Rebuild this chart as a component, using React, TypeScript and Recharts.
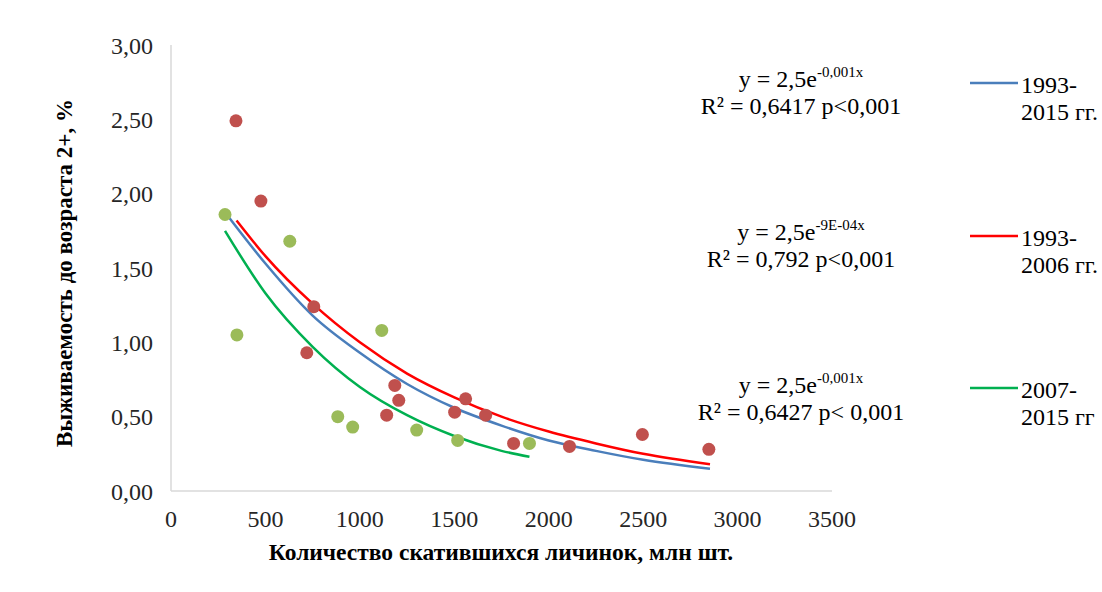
import { ComposedChart, Scatter, Line, XAxis, YAxis } from "recharts";

const red9306X = [344, 476, 719, 756, 1142, 1185, 1206, 1502, 1560, 1666, 1814, 2110, 2496, 2848];
const red9306Y = [2.49, 1.95, 0.93, 1.24, 0.51, 0.71, 0.61, 0.53, 0.62, 0.51, 0.32, 0.3, 0.38, 0.28];
const green0715X = [286, 349, 629, 883, 962, 1116, 1301, 1518, 1898];
const green0715Y = [1.86, 1.05, 1.68, 0.5, 0.43, 1.08, 0.41, 0.34, 0.32];

// trend lines, values
const blueTrendX = [289, 500, 750, 1000, 1250, 1500, 1750, 2000, 2250, 2500, 2854];
const blueTrendY = [1.87, 1.53, 1.18, 0.93, 0.72, 0.56, 0.44, 0.34, 0.27, 0.21, 0.15];
const redTrendX = [347, 500, 750, 1000, 1250, 1500, 1750, 2000, 2250, 2500, 2854];
const redTrendY = [1.82, 1.58, 1.26, 1.0, 0.79, 0.63, 0.5, 0.4, 0.32, 0.25, 0.18];
const greenTrendX = [286, 500, 750, 1000, 1250, 1500, 1750, 1898];
const greenTrendY = [1.75, 1.33, 0.97, 0.7, 0.51, 0.37, 0.27, 0.23];

const xTicks = [0, 500, 1000, 1500, 2000, 2500, 3000, 3500];
const yTicks = [0, 0.5, 1, 1.5, 2, 2.5, 3];

const toPoints = (xs: number[], ys: number[]) => xs.map((x, i) => ({ x, y: ys[i] }));

const FONT = "'Liberation Serif', 'Times New Roman', serif";

const dot = (fill: string) => (p: any) =>
  <circle cx={p.cx} cy={p.cy} r={6.5} fill={fill} />;

const notes = [
  { y: 87, exp: "-0,001x", r2: "R² = 0,6417 p<0,001", color: "#4A7EBB", l1: "1993-", l2: "2015 гг.", ly: 83 },
  { y: 240, exp: "-9E-04x", r2: "R² = 0,792 p<0,001", color: "#FF0000", l1: "1993-", l2: "2006 гг.", ly: 236 },
  { y: 393, exp: "-0,001x", r2: "R² = 0,6427 p< 0,001", color: "#00B050", l1: "2007-", l2: "2015 гг", ly: 388 },
];

export default function App() {
  const tick = { fill: "#262626", fontSize: 24, fontFamily: FONT };
  return (
    <div style={{ position: "absolute", left: 0, top: 0, width: 1102, height: 592, background: "#fff" }}>
      <ComposedChart width={1102} height={592} margin={{ top: 45, right: 270, bottom: 61, left: 0 }}>
        <XAxis
          type="number"
          dataKey="x"
          domain={[0, 3500]}
          ticks={xTicks}
          tick={tick}
          tickLine={false}
          tickSize={17}
          axisLine={{ stroke: "#D9D9D9", strokeWidth: 1.5 }}
          height={40}
          allowDataOverflow
        />
        <YAxis
          type="number"
          dataKey="y"
          domain={[0, 3]}
          ticks={yTicks}
          tick={tick}
          tickLine={false}
          tickSize={16}
          tickFormatter={(v) => Number(v).toFixed(2).replace(".", ",")}
          axisLine={{ stroke: "#D9D9D9", strokeWidth: 1.5 }}
          width={171}
        />
        <Scatter data={toPoints(red9306X, red9306Y)} shape={dot("#C0504D")} isAnimationActive={false} />
        <Scatter data={toPoints(green0715X, green0715Y)} shape={dot("#9BBB59")} isAnimationActive={false} />
        <Line data={toPoints(greenTrendX, greenTrendY)} dataKey="y" type="monotone" stroke="#00B050" strokeWidth={2.5} dot={false} activeDot={false} isAnimationActive={false} />
        <Line data={toPoints(redTrendX, redTrendY)} dataKey="y" type="monotone" stroke="#FF0000" strokeWidth={2.5} dot={false} activeDot={false} isAnimationActive={false} />
        <Line data={toPoints(blueTrendX, blueTrendY)} dataKey="y" type="monotone" stroke="#4A7EBB" strokeWidth={2.5} dot={false} activeDot={false} isAnimationActive={false} />
      </ComposedChart>

      <svg width={1102} height={592} style={{ position: "absolute", left: 0, top: 0, pointerEvents: "none" }}>
        <g fontFamily={FONT} fill="#000">
          <text
            x={64}
            y={273}
            transform="rotate(-90 64 273)"
            textAnchor="middle"
            dominantBaseline="central"
            fontSize={23}
            fontWeight="bold"
          >
            Выживаемость до возраста 2+, %
          </text>
          <text x={501} y={560} textAnchor="middle" fontSize={23.5} fontWeight="bold">
            Количество скатившихся личинок, млн шт.
          </text>
          {notes.map((n) => (
            <g key={n.y}>
              <text x={801} y={n.y} textAnchor="middle" fontSize={24}>
                y = 2,5e<tspan fontSize={15} dy={-10}>{n.exp}</tspan>
              </text>
              <text x={801} y={n.y + 27} textAnchor="middle" fontSize={24}>
                {n.r2}
              </text>
              <line x1={970} x2={1018} y1={n.ly} y2={n.ly} stroke={n.color} strokeWidth={2.5} />
              <text x={1021} y={n.ly + 10} fontSize={24}>{n.l1}</text>
              <text x={1021} y={n.ly + 37} fontSize={24}>{n.l2}</text>
            </g>
          ))}
        </g>
      </svg>
    </div>
  );
}
